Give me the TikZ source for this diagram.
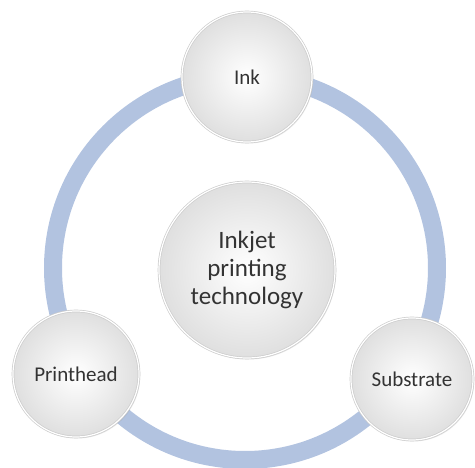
\documentclass[tikz,border=0pt]{standalone}
\usepackage{fontspec}
\setmainfont{Carlito}
\usetikzlibrary{shadows}
\definecolor{ringblue}{HTML}{B2C3E0}
\definecolor{txtgray}{HTML}{333333}
\tikzset{
  ball/.style={circle, draw=gray!40, line width=0.7pt, double=white, double distance=1.2pt,
    inner sep=0pt,
    shade, inner color=white, outer color=gray!25,
    drop shadow={shadow xshift=1.2pt, shadow yshift=-1.5pt, opacity=0.18, fill=gray},
    text=txtgray, align=center},
  smallball/.style={ball, minimum size=126pt, font=\fontsize{21}{24}\selectfont},
  bigball/.style={ball, minimum size=176pt, font=\fontsize{25}{28}\selectfont},
}
\begin{document}
\begin{tikzpicture}[x=1pt,y=-1pt]
\useasboundingbox (0,0) rectangle (475,468);
\coordinate (ringc) at (245,268);
\draw[ringblue, line width=18pt] (ringc) circle[radius=192];
\node[bigball] (center) at (247,270) {Inkjet\\printing\\technology};
\node[smallball, minimum size=130pt] (ink) at (247,77) {Ink};
\node[smallball] (printhead) at (76,374) {Printhead};
\node[smallball, minimum size=122pt] (substrate) at (412,379) {Substrate};
\end{tikzpicture}
\end{document}
